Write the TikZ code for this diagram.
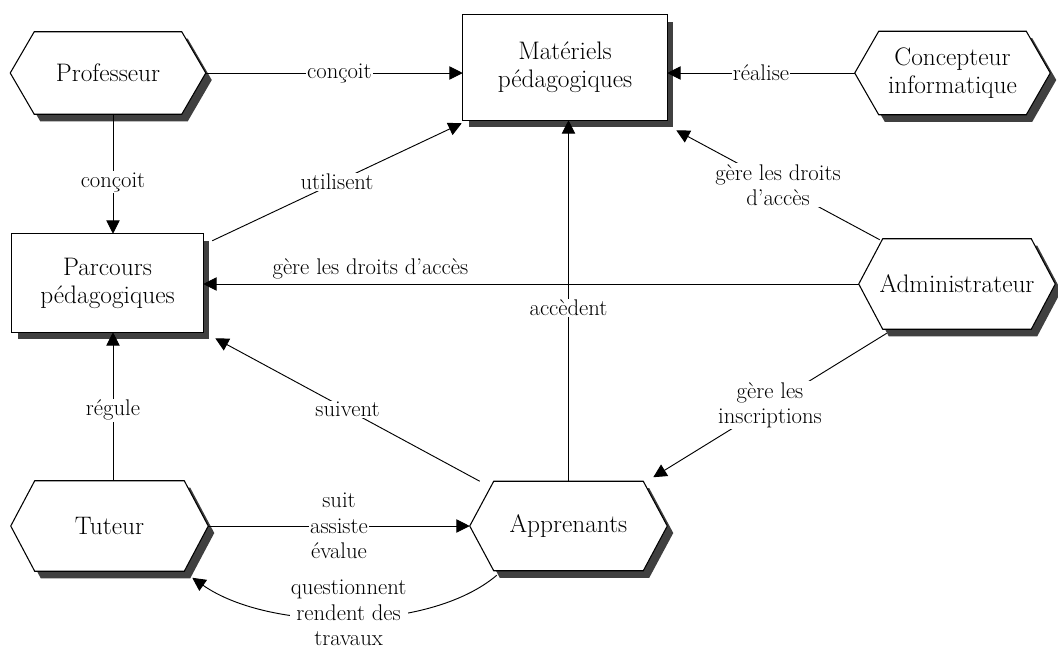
\documentclass[tikz,border=0pt]{standalone}
\usetikzlibrary{arrows.meta,calc,backgrounds}
\definecolor{shadowc}{HTML}{404040}
\newcommand\hexa[1]{%
  \fill[shadowc] ($(#1.west)+(6,7)$) -- ($(#1.north west)+(30,7)$) -- ($(#1.north east)+(-18,7)$) -- ($(#1.east)+(6,7)$) -- ($(#1.south east)+(-18,7)$) -- ($(#1.south west)+(30,7)$) -- cycle;
  \filldraw[edge, fill=white] (#1.west) -- ($(#1.north west)+(24,0)$) -- ($(#1.north east)+(-24,0)$) -- (#1.east) -- ($(#1.south east)+(-24,0)$) -- ($(#1.south west)+(24,0)$) -- cycle;}
\newcommand\rectshape[1]{%
  \fill[shadowc] ($(#1.south west)+(6,7)$) rectangle ($(#1.north east)+(6,7)$);
  \filldraw[edge, fill=white] (#1.south west) rectangle (#1.north east);}
\begin{document}
\begin{tikzpicture}[x=0.75pt,y=-0.75pt,
  box/.style={rectangle, inner sep=0pt, align=center, font=\fontsize{19}{21}\selectfont},
  lbl/.style={fill=white, inner sep=1pt, align=center, font=\fontsize{17}{19}\selectfont},
  conn/.style={line width=0.7pt, -{Triangle[length=10pt,width=10pt]}},
  edge/.style={line width=0.8pt},
]
\useasboundingbox (0,0) rectangle (1058,651);

\node[box, minimum width=146.25pt, minimum height=61.5pt] (prof) at (108,73) {Professeur};
\node[box, minimum width=146.25pt, minimum height=62.25pt] (conc) at (952.5,73) {Concepteur\\informatique};
\node[box, minimum width=147pt, minimum height=67.5pt] (admin) at (957,284) {Administrateur};
\node[box, minimum width=147.75pt, minimum height=67.5pt] (tut) at (109.5,526) {Tuteur};
\node[box, minimum width=147.75pt, minimum height=66.75pt] (appr) at (568.5,526) {Apprenants};
\node[box, minimum width=153pt, minimum height=78.75pt] (mat) at (565,67.5) {Matériels\\pédagogiques};
\node[box, minimum width=143.25pt, minimum height=73.5pt] (parc) at (107.5,283) {Parcours\\pédagogiques};

\begin{scope}[on background layer]
  \fill[white] (0,0) rectangle (1058,651);
  \hexa{prof}
  \hexa{conc}
  \hexa{admin}
  \hexa{tut}
  \hexa{appr}
  \rectshape{mat}
  \rectshape{parc}
\end{scope}

\coordinate (pv) at ($(prof.south)+(5,0)$);
\coordinate (tv) at ($(tut.north)+(3.5,0)$);

\draw[conn] (prof.east) -- node[lbl, pos=0.52] {conçoit} (prof.east -| mat.west);
\draw[conn] (conc.west) -- node[lbl] {réalise} (conc.west -| mat.east);
\draw[conn] (pv) -- node[lbl, pos=0.57] {conçoit} (pv |- parc.north);
\draw[conn] ($(parc.north east)+(9,7)$) -- node[lbl] {utilisent} ($(mat.south west)+(-1,3)$);
\draw[conn] ($(admin.north west)+(21,1)$) -- node[lbl] {gère les droits\\d'accès} ($(mat.south east)+(9,10)$);
\draw[conn] (admin.west) -- node[lbl, pos=0.745, above=2pt] {gère les droits d'accès} (admin.west -| parc.east);
\draw[conn] (appr.north) -- node[lbl, pos=0.48] {accèdent} (appr.north |- mat.south);
\draw[conn] ($(appr.north west)+(10,0)$) -- node[lbl] {suivent} ($(parc.south east)+(12,6)$);
\draw[conn] ($(admin.south west)+(28,4)$) -- node[lbl] {gère les\\inscriptions} ($(appr.north east)+(-14,-4)$);
\draw[conn] (tv) -- node[lbl, pos=0.476] {régule} (tv |- parc.south);
\draw[conn] (tut.east) -- node[lbl] {suit\\assiste\\évalue} (tut.east -| appr.west);
\draw[conn] ($(appr.south west)+(27,4.5)$) .. controls (430,632) and (270,632) .. node[lbl, yshift=4pt] {questionnent\\rendent des\\travaux} ($(tut.south east)+(-16,6.5)$);
\end{tikzpicture}
\end{document}
